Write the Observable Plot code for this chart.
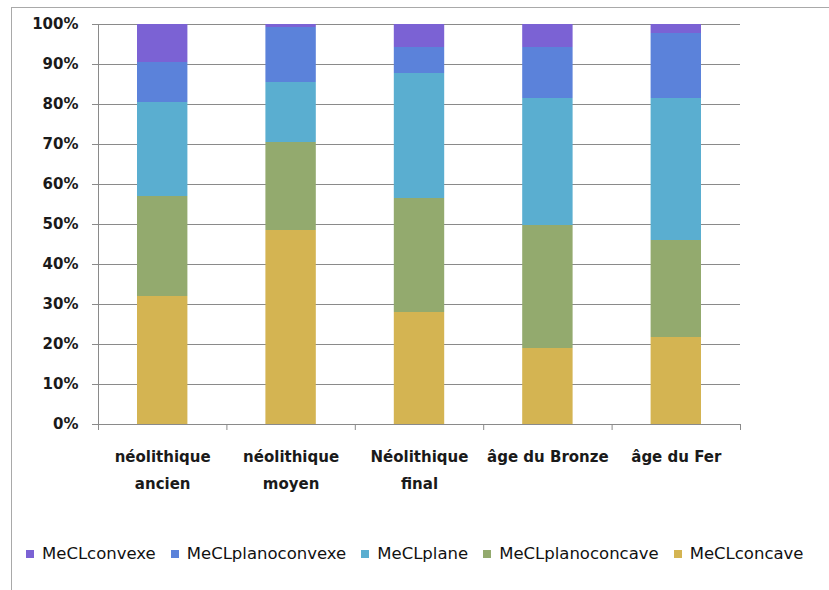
<!DOCTYPE html>
<html>
<head>
<meta charset="utf-8">
<script src="https://cdn.jsdelivr.net/npm/d3@7"></script>
<script src="https://cdn.jsdelivr.net/npm/@observablehq/plot@0.6"></script>
<style>
  html, body { margin: 0; padding: 0; background: #fff; }
  body { width: 829px; height: 590px; overflow: hidden; position: relative; font-family: "DejaVu Sans", sans-serif; }
  #chart { position: absolute; left: 0; top: 0; }
  #border { position: absolute; left: 11px; top: 7px; width: 1000px; height: 1000px; border: 1px solid #a9a9a9; box-sizing: border-box; pointer-events: none; }
  #legend { position: absolute; left: 26px; top: 544px; display: flex; align-items: center; font-size: 16.5px; color: #111; white-space: nowrap; }
  #legend .item { display: flex; align-items: center; margin-right: 15px; }
  #legend .sw { width: 8px; height: 8px; margin-right: 8px; }
</style>
</head>
<body>
<div id="chart"></div>
<div id="border"></div>
<div id="legend"></div>
<script>
// Categories (x) and their two-line labels
const categories = ["néolithique ancien", "néolithique moyen", "Néolithique final", "âge du Bronze", "âge du Fer"];
const labelLine1 = ["néolithique", "néolithique", "Néolithique", "âge du Bronze", "âge du Fer"];
const labelLine2 = ["ancien", "moyen", "final", "", ""];

// Series (legend order) and colours
const seriesNames = ["MeCLconvexe", "MeCLplanoconvexe", "MeCLplane", "MeCLplanoconcave", "MeCLconcave"];
const seriesColors = ["#7b62d4", "#5b82da", "#5aaed0", "#93aa6e", "#d4b452"];

// Percent values per category
const MeCLconcave      = [32, 48.5, 28, 19, 21.75];
const MeCLplanoconcave = [25, 22, 28.5, 30.75, 24.25];
const MeCLplane        = [23.5, 15, 31.25, 31.75, 35.5];
const MeCLplanoconvexe = [10, 13.75, 6.5, 12.75, 16.25];
const MeCLconvexe      = [9.5, 0.75, 5.75, 5.75, 2.25];

const yTicks = [0, 10, 20, 30, 40, 50, 60, 70, 80, 90, 100];

// Stack order bottom to top
const stackOrder = [
  ["MeCLconcave", MeCLconcave],
  ["MeCLplanoconcave", MeCLplanoconcave],
  ["MeCLplane", MeCLplane],
  ["MeCLplanoconvexe", MeCLplanoconvexe],
  ["MeCLconvexe", MeCLconvexe]
];
const rows = [];
stackOrder.forEach(([name, vals]) => {
  vals.forEach((v, i) => rows.push({i, category: categories[i], series: name, value: v}));
});

const gray = "#8a8a8a";
const stacked = Plot.stackY({x: "i", y: "value", fill: "series", order: null});

const chart = Plot.plot({
  width: 829,
  height: 590,
  marginLeft: 98,
  marginRight: 89,
  marginTop: 24,
  marginBottom: 166,
  style: {fontFamily: "DejaVu Sans, sans-serif", background: "transparent", overflow: "visible"},
  x: {domain: [0, categories.length], axis: null},
  y: {domain: [0, 100], axis: null},
  color: {domain: seriesNames, range: seriesColors},
  marks: [
    Plot.gridY(yTicks, {stroke: gray, strokeOpacity: 1}),
    Plot.rect(rows, {
      ...stacked,
      x: undefined,
      y: undefined,
      x1: "i",
      x2: d => d.i + 1,
      insetLeft: 39,
      insetRight: 39
    }),
    Plot.ruleX([0], {stroke: gray}),
    Plot.ruleY([0], {stroke: gray}),
    Plot.axisY({ticks: yTicks, tickSize: 6, tickPadding: 14, tickFormat: d => d + "%", stroke: gray, fill: "#1a1a1a", fontSize: 15, fontWeight: "bold", label: null}),
    Plot.axisX({ticks: d3.range(categories.length + 1), tickSize: 6, tickFormat: () => "", stroke: gray, label: null}),
    Plot.axisX({ticks: categories.map((c, i) => i + 0.5), tickSize: 0, tickPadding: 27, tickFormat: d => labelLine1[Math.floor(d)], fill: "#1a1a1a", fontSize: 15, fontWeight: "bold", label: null}),
    Plot.axisX({ticks: categories.map((c, i) => i + 0.5), tickSize: 0, tickPadding: 54, tickFormat: d => labelLine2[Math.floor(d)], fill: "#1a1a1a", fontSize: 15, fontWeight: "bold", label: null})
  ]
});
document.getElementById("chart").appendChild(chart);

// Legend
const legend = d3.select("#legend");
seriesNames.forEach((name, k) => {
  const item = legend.append("div").attr("class", "item");
  item.append("div").attr("class", "sw").style("background", seriesColors[k]);
  item.append("span").text(name);
});
</script>
</body>
</html>
